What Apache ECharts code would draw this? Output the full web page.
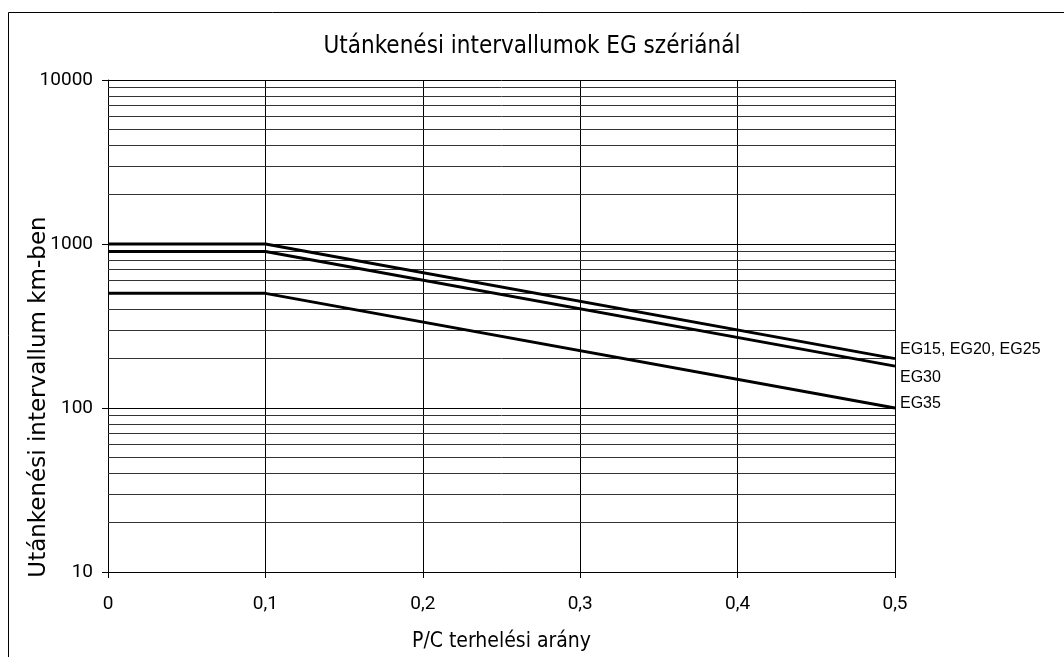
<!DOCTYPE html>
<html>
<head>
<meta charset="utf-8">
<script src="https://cdn.jsdelivr.net/npm/echarts@6/dist/echarts.min.js"></script>
<style>
html,body{margin:0;padding:0;background:#fff;}
#c{width:1064px;height:657px;}
</style>
</head>
<body>
<div id="c"></div>
<script>
const xValues = [0, 0.1, 0.5];
const eg15 = [1000, 1000, 200];
const eg30 = [900, 900, 180];
const eg35 = [500, 500, 100];
const seriesNames = ['EG15, EG20, EG25', 'EG30', 'EG35'];
const minorGrid = [20,30,40,50,60,70,80,90,200,300,400,500,600,700,800,900,2000,3000,4000,5000,6000,7000,8000,9000];
const yTitle = 'Utánkenési intervallum km-ben';

const labelOffsets = [[0,-9],[0,11],[0,-4]];
const allVals = [eg15, eg30, eg35];

const series = allVals.map((vals, si) => ({
  type: 'line',
  name: seriesNames[si],
  symbol: 'none',
  lineStyle: {color: '#000', width: 3},
  endLabel: {show: true, formatter: seriesNames[si], offset: labelOffsets[si], distance: 5,
    color: '#000', fontFamily: 'Liberation Sans', fontSize: 16},
  data: vals.map((v, i) => [xValues[i], v]),
  z: 5
}));

series.push({
  type: 'line',
  data: [],
  silent: true,
  markLine: {
    silent: true,
    symbol: 'none',
    animation: false,
    label: {show: false},
    lineStyle: {color: '#333', width: 1, type: 'solid'},
    data: minorGrid.map(v => ({yAxis: v}))
  }
});

const chart = echarts.init(document.getElementById('c'));
chart.setOption({
  animation: false,
  backgroundColor: '#fff',
  title: {
    text: 'Utánkenési intervallumok EG szériánál',
    left: 'center', top: 30,
    textStyle: {fontFamily: 'DejaVu Sans Condensed', fontWeight: 'normal', fontSize: 24, color: '#000'}
  },
  graphic: [{
    type: 'rect', shape: {x: 8.5, y: 12.5, width: 1200, height: 800},
    style: {fill: 'none', stroke: '#000', lineWidth: 1}, silent: true
  }, {
    type: 'text', x: 39, y: 397, rotation: Math.PI / 2, silent: true,
    style: {text: yTitle, align: 'center', verticalAlign: 'middle',
      fontFamily: 'DejaVu Sans', fontSize: 23, fill: '#000'}
  }],
  grid: {left: 108, right: 169, top: 80, bottom: 84, containLabel: false},
  xAxis: {
    type: 'value', min: 0, max: 0.5, interval: 0.1,
    name: 'P/C terhelési arány', nameLocation: 'middle', nameGap: 59,
    nameTextStyle: {fontFamily: 'DejaVu Sans Condensed', fontSize: 21, color: '#000'},
    axisLine: {show: true, lineStyle: {color: '#000', width: 1}},
    axisTick: {show: true, length: 6, lineStyle: {color: '#000'}},
    axisLabel: {margin: 23, fontFamily: 'Roboto', fontSize: 19, color: '#000',
      formatter: v => String(Math.round(v * 10) / 10).replace('.', ',')},
    splitLine: {show: true, lineStyle: {color: '#000', width: 1}}
  },
  yAxis: {
    type: 'log', logBase: 10, min: 10, max: 10000,
    axisLine: {show: true, lineStyle: {color: '#000', width: 1}},
    axisTick: {show: true, length: 6, lineStyle: {color: '#000'}},
    axisLabel: {margin: 15, fontFamily: 'Roboto', fontSize: 19, color: '#000',
      formatter: v => String(Math.round(v))},
    splitLine: {show: true, lineStyle: {color: '#000', width: 1}}
  },
  series: series
});
</script>
</body>
</html>
